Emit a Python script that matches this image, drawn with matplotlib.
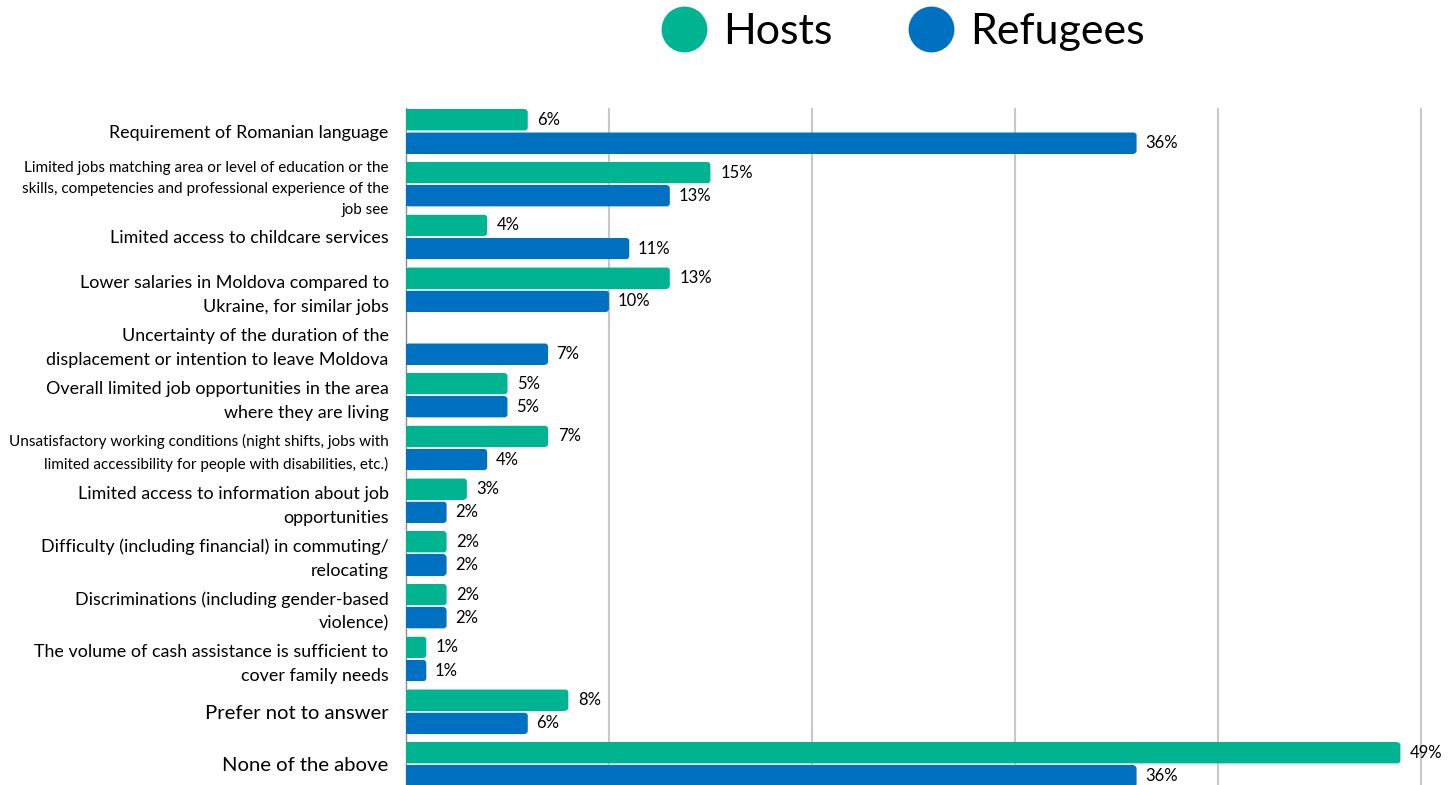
import numpy as np
import matplotlib.pyplot as plt
from matplotlib.lines import Line2D
from matplotlib.patches import FancyBboxPatch

plt.rcParams['font.family'] = ['Lato', 'DejaVu Sans']

categories = [
    "Requirement of Romanian language",
    "Limited jobs matching area or level of education or the\nskills, competencies and professional experience of the\njob see",
    "Limited access to childcare services",
    "Lower salaries in Moldova compared to\nUkraine, for similar jobs",
    "Uncertainty of the duration of the\ndisplacement or intention to leave Moldova",
    "Overall limited job opportunities in the area\nwhere they are living",
    "Unsatisfactory working conditions (night shifts, jobs with\nlimited accessibility for people with disabilities, etc.)",
    "Limited access to information about job\nopportunities",
    "Difficulty (including financial) in commuting/\nrelocating",
    "Discriminations (including gender-based\nviolence)",
    "The volume of cash assistance is sufficient to\ncover family needs",
    "Prefer not to answer",
    "None of the above",
]
label_sizes = [12.9, 11, 12.9, 12.9, 12.9, 12.9, 11, 12.9, 12.9, 12.9, 12.9, 14.6, 14.6]

hosts = [6, 15, 4, 13, np.nan, 5, 7, 3, 2, 2, 1, 8, 49]
refugees = [36, 13, 11, 10, 7, 5, 4, 2, 2, 2, 1, 6, 36]

green = '#00B491'
blue = '#0070C0'

W, H = 1453, 785
fig = plt.figure(figsize=(W / 100, H / 100), dpi=100)
ax_left, ax_right, ax_top = 406, 1441, 108
ax = fig.add_axes([ax_left / W, 0, (ax_right - ax_left) / W, (H - ax_top) / H])

xmax = 0.51
ylim = (12.39, -0.445)
y = np.arange(len(categories))
off = 0.22
bh = 0.40
h = np.array(hosts, dtype=float) / 100
r = np.array(refugees, dtype=float) / 100

# pixels per data unit, used to round the bar ends by a few pixels
px_x = (ax_right - ax_left) / xmax
px_y = (H - ax_top) / (ylim[0] - ylim[1])
rad = 3 / px_x


def rounded_bars(vals, ypos, color):
    for v, yc in zip(vals, ypos):
        if np.isnan(v) or v <= 0:
            continue
        ax.barh(yc, max(v - rad, 0), height=bh, color=color, zorder=3)
        ax.add_patch(FancyBboxPatch((0, yc - bh / 2), v, bh,
                                    boxstyle=f"round,pad=0,rounding_size={rad}",
                                    mutation_aspect=px_x / px_y,
                                    facecolor=color, edgecolor='none', zorder=3))


rounded_bars(h, y - off, green)
rounded_bars(r, y + off, blue)

for yi, v in zip(y, h):
    if not np.isnan(v):
        ax.annotate(f"{v * 100:.0f}%", (v, yi - off), xytext=(7, 0),
                    textcoords='offset points', va='center', fontsize=12)
for yi, v in zip(y, r):
    ax.annotate(f"{v * 100:.0f}%", (v, yi + off), xytext=(6, 0),
                textcoords='offset points', va='center', fontsize=12)

ax.set_xlim(0, xmax)
ax.set_ylim(*ylim)
ax.set_xticks([0.1, 0.2, 0.3, 0.4, 0.5])
ax.xaxis.grid(True, color='#C8C8C8', linewidth=1.5, zorder=0)
ax.tick_params(axis='x', length=0, labelbottom=False)
ax.set_yticks(y)
ax.set_yticklabels(categories, linespacing=1.6)
for lab, fs in zip(ax.get_yticklabels(), label_sizes):
    lab.set_fontsize(fs)
ax.tick_params(axis='y', length=0, pad=12.5)
for s in ['top', 'right', 'bottom']:
    ax.spines[s].set_visible(False)
ax.spines['left'].set_color('#8C8C8C')
ax.spines['left'].set_linewidth(1)

handles = [Line2D([], [], marker='o', linestyle='', markersize=32, color=green),
           Line2D([], [], marker='o', linestyle='', markersize=32, color=blue)]
fig.legend(handles, ['Hosts', 'Refugees'], loc='center', ncol=2,
           bbox_to_anchor=(893 / W, 1 - 32 / H), frameon=False, fontsize=31,
           handletextpad=-0.1, columnspacing=1.3)

fig.savefig('out.png', dpi=100)
